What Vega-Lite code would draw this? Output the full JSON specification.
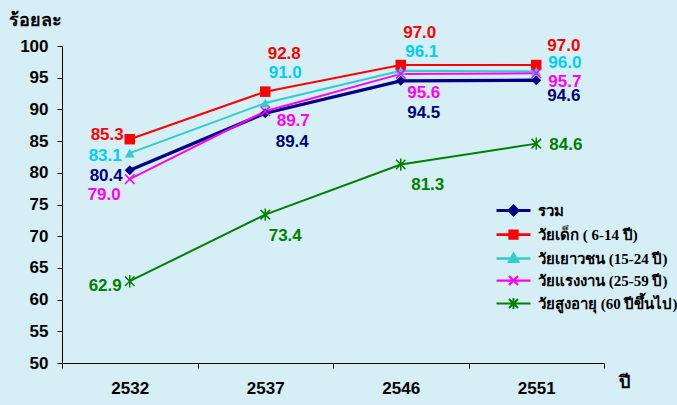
{
  "$schema": "https://vega.github.io/schema/vega-lite/v6.json",
  "width": 542,
  "height": 317,
  "autosize": {"type": "none"},
  "padding": {"left": 62, "top": 46, "right": 73, "bottom": 42},
  "background": "#d6eff6",
  "config": {"view": {"stroke": null}},
  "data": {"values": [
    {"year": "2532", "s": "รวม", "v": 80.4},
    {"year": "2537", "s": "รวม", "v": 89.4},
    {"year": "2546", "s": "รวม", "v": 94.5},
    {"year": "2551", "s": "รวม", "v": 94.6},
    {"year": "2532", "s": "วัยเด็ก ( 6-14 ปี)", "v": 85.3},
    {"year": "2537", "s": "วัยเด็ก ( 6-14 ปี)", "v": 92.8},
    {"year": "2546", "s": "วัยเด็ก ( 6-14 ปี)", "v": 97.0},
    {"year": "2551", "s": "วัยเด็ก ( 6-14 ปี)", "v": 97.0},
    {"year": "2532", "s": "วัยเยาวชน (15-24 ปี)", "v": 83.1},
    {"year": "2537", "s": "วัยเยาวชน (15-24 ปี)", "v": 91.0},
    {"year": "2546", "s": "วัยเยาวชน (15-24 ปี)", "v": 96.1},
    {"year": "2551", "s": "วัยเยาวชน (15-24 ปี)", "v": 96.0},
    {"year": "2532", "s": "วัยแรงงาน (25-59 ปี)", "v": 79.0},
    {"year": "2537", "s": "วัยแรงงาน (25-59 ปี)", "v": 89.7},
    {"year": "2546", "s": "วัยแรงงาน (25-59 ปี)", "v": 95.6},
    {"year": "2551", "s": "วัยแรงงาน (25-59 ปี)", "v": 95.7},
    {"year": "2532", "s": "วัยสูงอายุ (60 ปีขึ้นไป)", "v": 62.9},
    {"year": "2537", "s": "วัยสูงอายุ (60 ปีขึ้นไป)", "v": 73.4},
    {"year": "2546", "s": "วัยสูงอายุ (60 ปีขึ้นไป)", "v": 81.3},
    {"year": "2551", "s": "วัยสูงอายุ (60 ปีขึ้นไป)", "v": 84.6}
  ]},
  "encoding": {
    "x": {
      "field": "year", "type": "ordinal",
      "scale": {"paddingInner": 0, "paddingOuter": 0},
      "axis": {
        "title": "ปี", "titleX": 562, "titleY": 19, "titleAlign": "center", "titleBaseline": "middle",
        "titleFont": "Liberation Sans", "titleFontSize": 18, "titleFontWeight": "bold", "titleColor": "#000000",
        "tickBand": "extent", "labelAngle": 0, "labelFont": "Liberation Sans", "labelFontSize": 17,
        "labelFontWeight": "bold", "labelColor": "#000000", "labelPadding": 12,
        "domainColor": "#000000", "tickColor": "#000000", "tickSize": 5, "grid": false
      }
    },
    "y": {
      "field": "v", "type": "quantitative",
      "scale": {"domain": [50, 100], "nice": false, "zero": false},
      "axis": {
        "title": "ร้อยละ", "titleAngle": 0, "titleX": -54, "titleY": -26, "titleAlign": "left", "titleBaseline": "middle",
        "titleFont": "Liberation Sans", "titleFontSize": 18, "titleFontWeight": "bold", "titleColor": "#000000",
        "values": [50, 55, 60, 65, 70, 75, 80, 85, 90, 95, 100],
        "labelFont": "Liberation Sans", "labelFontSize": 17, "labelFontWeight": "bold", "labelColor": "#000000",
        "labelPadding": 9, "domainColor": "#000000", "tickColor": "#000000", "tickSize": 5, "grid": false
      }
    }
  },
  "layer": [
    {"transform": [{"filter": "datum.s === 'รวม'"}], "mark": {"type": "line", "color": "#000080", "strokeWidth": 3.3}, "encoding": {}},
    {"transform": [{"filter": "datum.s === 'วัยเด็ก ( 6-14 ปี)'"}], "mark": {"type": "line", "color": "#ff0000", "strokeWidth": 2}, "encoding": {}},
    {"transform": [{"filter": "datum.s === 'วัยเยาวชน (15-24 ปี)'"}], "mark": {"type": "line", "color": "#33cccc", "strokeWidth": 2}, "encoding": {}},
    {"transform": [{"filter": "datum.s === 'วัยแรงงาน (25-59 ปี)'"}], "mark": {"type": "line", "color": "#ff00ff", "strokeWidth": 2}, "encoding": {}},
    {"transform": [{"filter": "datum.s === 'วัยสูงอายุ (60 ปีขึ้นไป)'"}], "mark": {"type": "line", "color": "#008000", "strokeWidth": 2}, "encoding": {}},
    {"transform": [{"filter": "datum.s === 'รวม'"}], "mark": {"type": "point", "shape": "diamond", "filled": true, "opacity": 1, "size": 100, "color": "#000080"}},
    {"transform": [{"filter": "datum.s === 'วัยเด็ก ( 6-14 ปี)'"}], "mark": {"type": "point", "shape": "square", "filled": true, "opacity": 1, "size": 110, "color": "#ff0000"}},
    {"transform": [{"filter": "datum.s === 'วัยเยาวชน (15-24 ปี)'"}], "mark": {"type": "point", "shape": "triangle-up", "filled": true, "opacity": 1, "size": 100, "color": "#33cccc"}},
    {"transform": [{"filter": "datum.s === 'วัยแรงงาน (25-59 ปี)'"}], "mark": {"type": "point", "shape": "M-1,-1L1,1M-1,1L1,-1", "filled": false, "opacity": 1, "size": 90, "strokeWidth": 1.5, "color": "#ff00ff"}},
    {"transform": [{"filter": "datum.s === 'วัยสูงอายุ (60 ปีขึ้นไป)'"}], "mark": {"type": "point", "shape": "M-1,-1L1,1M-1,1L1,-1M0,-1.3V1.3", "filled": false, "opacity": 1, "size": 90, "strokeWidth": 1.5, "color": "#008000"}},
    {
      "transform": [{"filter": "datum.v < 0"}],
      "mark": {"type": "point", "filled": true, "opacity": 1, "size": 100},
      "encoding": {
        "color": {
          "field": "s", "type": "nominal",
          "scale": {
            "domain": ["รวม", "วัยเด็ก ( 6-14 ปี)", "วัยเยาวชน (15-24 ปี)", "วัยแรงงาน (25-59 ปี)", "วัยสูงอายุ (60 ปีขึ้นไป)"],
            "range": ["#000080", "#ff0000", "#33cccc", "#ff00ff", "#008000"]
          },
          "legend": {
            "title": null, "orient": "none", "legendX": 444, "legendY": 157, "padding": 0,
            "symbolSize": 100, "labelOffset": 17, "rowPadding": 4, "symbolOpacity": 1,
            "labelFont": "Liberation Serif", "labelFontSize": 15, "labelFontWeight": "bold", "labelColor": "#000000",
            "labelLimit": 300
          }
        },
        "stroke": {
          "field": "s", "type": "nominal",
          "scale": {
            "domain": ["รวม", "วัยเด็ก ( 6-14 ปี)", "วัยเยาวชน (15-24 ปี)", "วัยแรงงาน (25-59 ปี)", "วัยสูงอายุ (60 ปีขึ้นไป)"],
            "range": ["#000080", "#ff0000", "#33cccc", "#ff00ff", "#008000"]
          },
          "legend": {"title": null}
        },
        "strokeWidth": {
          "field": "s", "type": "nominal",
          "scale": {
            "domain": ["รวม", "วัยเด็ก ( 6-14 ปี)", "วัยเยาวชน (15-24 ปี)", "วัยแรงงาน (25-59 ปี)", "วัยสูงอายุ (60 ปีขึ้นไป)"],
            "range": [3, 2, 2, 2, 2]
          },
          "legend": {"title": null}
        },
        "shape": {
          "field": "s", "type": "nominal",
          "scale": {
            "domain": ["รวม", "วัยเด็ก ( 6-14 ปี)", "วัยเยาวชน (15-24 ปี)", "วัยแรงงาน (25-59 ปี)", "วัยสูงอายุ (60 ปีขึ้นไป)"],
            "range": [
              "M-3.4,0H3.4M-0.9,0L0,-0.9L0.9,0L0,0.9Z",
              "M-3.4,0H3.4M-0.75,-0.75H0.75V0.75H-0.75Z",
              "M-3.4,0H3.4M0,-0.95L0.9,0.65H-0.9Z",
              "M-3.4,0H3.4M-0.9,-0.9L0.9,0.9M-0.9,0.9L0.9,-0.9",
              "M-3.4,0H3.4M-0.9,-0.9L0.9,0.9M-0.9,0.9L0.9,-0.9M0,-1.1V1.1"
            ]
          },
          "legend": {"title": null}
        }
      }
    },
    {"transform": [{"filter": "datum.s === 'รวม' && datum.year === '2532'"}], "mark": {"type": "text", "align": "right", "baseline": "middle", "dx": -7, "dy": 6, "font": "Liberation Sans", "fontSize": 17, "fontWeight": "bold", "color": "#000080"}, "encoding": {"text": {"field": "v", "type": "quantitative", "format": ".1f"}}},
    {"transform": [{"filter": "datum.s === 'รวม' && datum.year === '2537'"}], "mark": {"type": "text", "align": "center", "baseline": "middle", "dx": 27, "dy": 29, "font": "Liberation Sans", "fontSize": 17, "fontWeight": "bold", "color": "#000080"}, "encoding": {"text": {"field": "v", "type": "quantitative", "format": ".1f"}}},
    {"transform": [{"filter": "datum.s === 'รวม' && datum.year === '2546'"}], "mark": {"type": "text", "align": "center", "baseline": "middle", "dx": 23, "dy": 32, "font": "Liberation Sans", "fontSize": 17, "fontWeight": "bold", "color": "#000080"}, "encoding": {"text": {"field": "v", "type": "quantitative", "format": ".1f"}}},
    {"transform": [{"filter": "datum.s === 'รวม' && datum.year === '2551'"}], "mark": {"type": "text", "align": "left", "baseline": "middle", "dx": 11, "dy": 16, "font": "Liberation Sans", "fontSize": 17, "fontWeight": "bold", "color": "#000080"}, "encoding": {"text": {"field": "v", "type": "quantitative", "format": ".1f"}}},
    {"transform": [{"filter": "datum.s === 'วัยเด็ก ( 6-14 ปี)' && datum.year === '2532'"}], "mark": {"type": "text", "align": "right", "baseline": "middle", "dx": -6, "dy": -4, "font": "Liberation Sans", "fontSize": 17, "fontWeight": "bold", "color": "#ff0000"}, "encoding": {"text": {"field": "v", "type": "quantitative", "format": ".1f"}}},
    {"transform": [{"filter": "datum.s === 'วัยเด็ก ( 6-14 ปี)' && datum.year === '2537'"}], "mark": {"type": "text", "align": "center", "baseline": "middle", "dx": 19, "dy": -38, "font": "Liberation Sans", "fontSize": 17, "fontWeight": "bold", "color": "#ff0000"}, "encoding": {"text": {"field": "v", "type": "quantitative", "format": ".1f"}}},
    {"transform": [{"filter": "datum.s === 'วัยเด็ก ( 6-14 ปี)' && datum.year === '2546'"}], "mark": {"type": "text", "align": "center", "baseline": "middle", "dx": 19, "dy": -32, "font": "Liberation Sans", "fontSize": 17, "fontWeight": "bold", "color": "#ff0000"}, "encoding": {"text": {"field": "v", "type": "quantitative", "format": ".1f"}}},
    {"transform": [{"filter": "datum.s === 'วัยเด็ก ( 6-14 ปี)' && datum.year === '2551'"}], "mark": {"type": "text", "align": "left", "baseline": "middle", "dx": 11, "dy": -19, "font": "Liberation Sans", "fontSize": 17, "fontWeight": "bold", "color": "#ff0000"}, "encoding": {"text": {"field": "v", "type": "quantitative", "format": ".1f"}}},
    {"transform": [{"filter": "datum.s === 'วัยเยาวชน (15-24 ปี)' && datum.year === '2532'"}], "mark": {"type": "text", "align": "right", "baseline": "middle", "dx": -8, "dy": 3, "font": "Liberation Sans", "fontSize": 17, "fontWeight": "bold", "color": "#00ccff"}, "encoding": {"text": {"field": "v", "type": "quantitative", "format": ".1f"}}},
    {"transform": [{"filter": "datum.s === 'วัยเยาวชน (15-24 ปี)' && datum.year === '2537'"}], "mark": {"type": "text", "align": "center", "baseline": "middle", "dx": 20, "dy": -30, "font": "Liberation Sans", "fontSize": 17, "fontWeight": "bold", "color": "#00ccff"}, "encoding": {"text": {"field": "v", "type": "quantitative", "format": ".1f"}}},
    {"transform": [{"filter": "datum.s === 'วัยเยาวชน (15-24 ปี)' && datum.year === '2546'"}], "mark": {"type": "text", "align": "center", "baseline": "middle", "dx": 21, "dy": -19, "font": "Liberation Sans", "fontSize": 17, "fontWeight": "bold", "color": "#00ccff"}, "encoding": {"text": {"field": "v", "type": "quantitative", "format": ".1f"}}},
    {"transform": [{"filter": "datum.s === 'วัยเยาวชน (15-24 ปี)' && datum.year === '2551'"}], "mark": {"type": "text", "align": "left", "baseline": "middle", "dx": 12, "dy": -8, "font": "Liberation Sans", "fontSize": 17, "fontWeight": "bold", "color": "#00ccff"}, "encoding": {"text": {"field": "v", "type": "quantitative", "format": ".1f"}}},
    {"transform": [{"filter": "datum.s === 'วัยแรงงาน (25-59 ปี)' && datum.year === '2532'"}], "mark": {"type": "text", "align": "right", "baseline": "middle", "dx": -9, "dy": 16, "font": "Liberation Sans", "fontSize": 17, "fontWeight": "bold", "color": "#ff00ff"}, "encoding": {"text": {"field": "v", "type": "quantitative", "format": ".1f"}}},
    {"transform": [{"filter": "datum.s === 'วัยแรงงาน (25-59 ปี)' && datum.year === '2537'"}], "mark": {"type": "text", "align": "center", "baseline": "middle", "dx": 28, "dy": 10, "font": "Liberation Sans", "fontSize": 17, "fontWeight": "bold", "color": "#ff00ff"}, "encoding": {"text": {"field": "v", "type": "quantitative", "format": ".1f"}}},
    {"transform": [{"filter": "datum.s === 'วัยแรงงาน (25-59 ปี)' && datum.year === '2546'"}], "mark": {"type": "text", "align": "center", "baseline": "middle", "dx": 23, "dy": 19, "font": "Liberation Sans", "fontSize": 17, "fontWeight": "bold", "color": "#ff00ff"}, "encoding": {"text": {"field": "v", "type": "quantitative", "format": ".1f"}}},
    {"transform": [{"filter": "datum.s === 'วัยแรงงาน (25-59 ปี)' && datum.year === '2551'"}], "mark": {"type": "text", "align": "left", "baseline": "middle", "dx": 12, "dy": 9, "font": "Liberation Sans", "fontSize": 17, "fontWeight": "bold", "color": "#ff00ff"}, "encoding": {"text": {"field": "v", "type": "quantitative", "format": ".1f"}}},
    {"transform": [{"filter": "datum.s === 'วัยสูงอายุ (60 ปีขึ้นไป)' && datum.year === '2532'"}], "mark": {"type": "text", "align": "right", "baseline": "middle", "dx": -8, "dy": 5, "font": "Liberation Sans", "fontSize": 17, "fontWeight": "bold", "color": "#008000"}, "encoding": {"text": {"field": "v", "type": "quantitative", "format": ".1f"}}},
    {"transform": [{"filter": "datum.s === 'วัยสูงอายุ (60 ปีขึ้นไป)' && datum.year === '2537'"}], "mark": {"type": "text", "align": "center", "baseline": "middle", "dx": 20, "dy": 21, "font": "Liberation Sans", "fontSize": 17, "fontWeight": "bold", "color": "#008000"}, "encoding": {"text": {"field": "v", "type": "quantitative", "format": ".1f"}}},
    {"transform": [{"filter": "datum.s === 'วัยสูงอายุ (60 ปีขึ้นไป)' && datum.year === '2546'"}], "mark": {"type": "text", "align": "center", "baseline": "middle", "dx": 27, "dy": 20, "font": "Liberation Sans", "fontSize": 17, "fontWeight": "bold", "color": "#008000"}, "encoding": {"text": {"field": "v", "type": "quantitative", "format": ".1f"}}},
    {"transform": [{"filter": "datum.s === 'วัยสูงอายุ (60 ปีขึ้นไป)' && datum.year === '2551'"}], "mark": {"type": "text", "align": "left", "baseline": "middle", "dx": 13, "dy": 1, "font": "Liberation Sans", "fontSize": 17, "fontWeight": "bold", "color": "#008000"}, "encoding": {"text": {"field": "v", "type": "quantitative", "format": ".1f"}}}
  ]
}
